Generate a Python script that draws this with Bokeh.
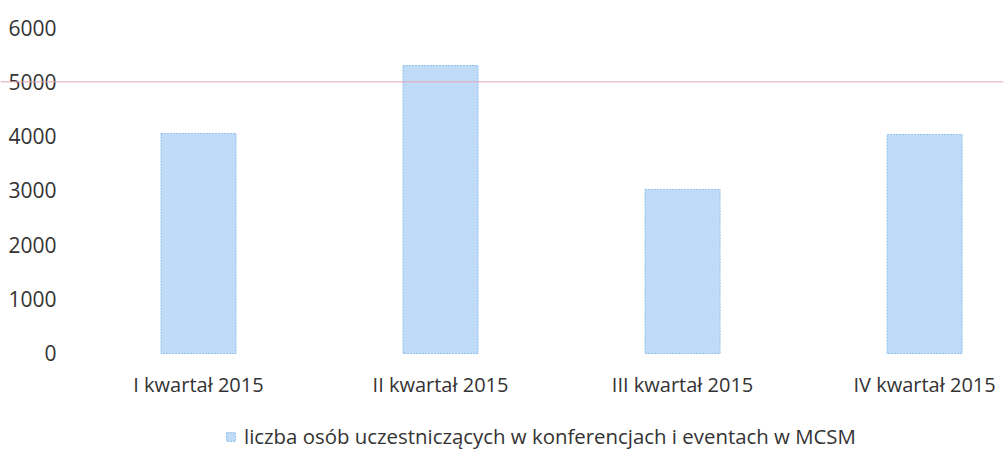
from bokeh.plotting import figure
from bokeh.models import Range1d, FixedTicker, Span, Legend, LegendItem, ColumnDataSource
from bokeh.embed import file_html
from bokeh.resources import INLINE

categories = ["I kwartał 2015", "II kwartał 2015", "III kwartał 2015", "IV kwartał 2015"]
values = [4050, 5300, 3020, 4030]
y_ticks = [0, 1000, 2000, 3000, 4000, 5000, 6000]
series_name = "liczba osób uczestniczących w konferencjach i eventach w MCSM"

FONT = "Open Sans"
xs = [i + 0.5 for i in range(len(categories))]
src = ColumnDataSource(dict(x=xs, top=values))

p = figure(width=1003, height=451, output_backend="svg", toolbar_location=None,
           x_range=Range1d(-0.318, 3.826), y_range=Range1d(-1804, 6497),
           min_border=0)
p.outline_line_color = None
p.background_fill_color = "white"
p.border_fill_color = "white"

r = p.vbar(x="x", top="top", width=0.31, source=src,
           fill_color="#c0dbf7", line_color="#8ec0ec", line_width=1, line_dash="2 1")

p.xaxis.ticker = FixedTicker(ticks=xs)
p.xaxis.major_label_overrides = {x: c for x, c in zip(xs, categories)}
p.xaxis.fixed_location = 0
p.yaxis.ticker = FixedTicker(ticks=y_ticks)
p.yaxis.fixed_location = -0.062
for ax in (p.xaxis[0], p.yaxis[0]):
    ax.axis_line_color = None
    ax.major_tick_line_color = None
    ax.minor_tick_line_color = None
    ax.major_tick_out = 0
    ax.major_tick_in = 0
    ax.major_label_text_font = FONT
    ax.major_label_text_font_size = "20px"
    ax.major_label_text_color = "#333333"
p.yaxis.major_label_text_font_size = "21px"
p.yaxis.major_label_standoff = 6
p.xaxis.major_label_standoff = 18
p.xgrid.grid_line_color = None
p.ygrid.grid_line_color = None

p.add_layout(Span(location=5000, dimension="width", line_color="#e3a3b5", line_width=1, level="overlay"))

legend = Legend(items=[LegendItem(label=series_name, renderers=[r])],
                location=(225, 1), orientation="horizontal",
                padding=0, margin=0, border_line_color=None, background_fill_alpha=0,
                glyph_width=11, glyph_height=11, label_standoff=8,
                label_text_font=FONT, label_text_font_size="20.4px", label_text_color="#333333")
p.add_layout(legend, "center")

open("out.html", "w").write(file_html(p, INLINE))
